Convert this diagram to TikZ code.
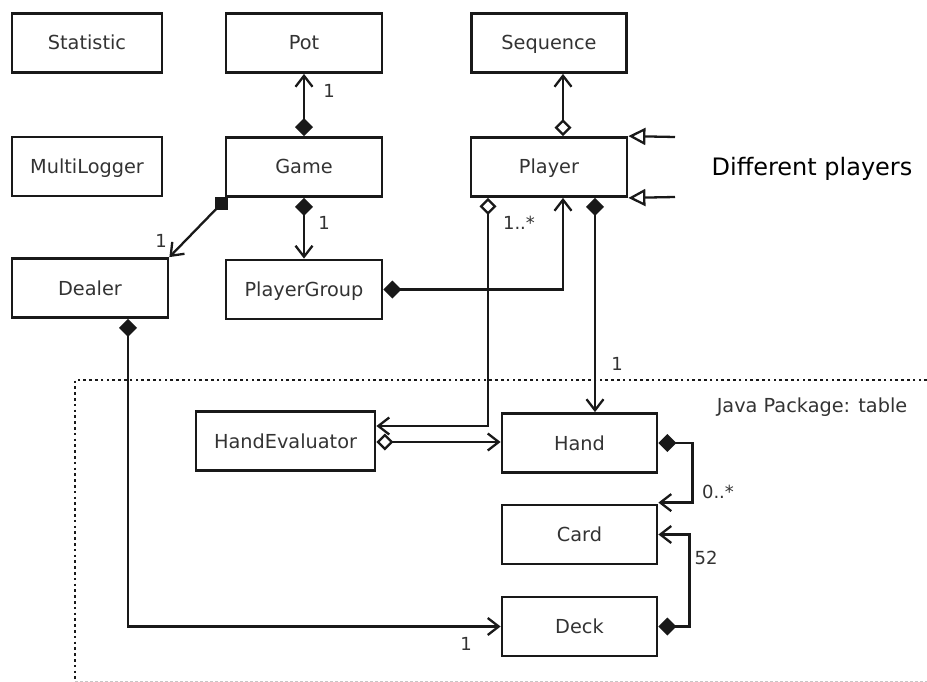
\documentclass[tikz,border=0pt]{standalone}
\usepackage{fontspec}
\setmainfont{DejaVu Sans}
\usetikzlibrary{arrows.meta,calc}

\begin{document}
\begin{tikzpicture}[x=1pt,y=-1pt,
  cls/.style={draw=black!90, line width=2.8pt, minimum height=59pt, inner sep=0pt,
              text height=14pt, text depth=0pt,
              font=\fontsize{19.3}{23}\selectfont, text=black!80},
  conn/.style={line width=2.3pt, draw=black!90},
  lbl/.style={font=\fontsize{18}{22}\selectfont, text=black!80, inner sep=0pt},
  navtip/.style={-{Straight Barb[length=11pt,width=17pt]}},
  compnav/.style={{Diamond[length=18pt,width=18pt]}-{Straight Barb[length=11pt,width=17pt]}},
  aggrnav/.style={{Diamond[open,length=17pt,width=17pt,fill=white]}-{Straight Barb[length=11pt,width=17pt]}},
  gentip/.style={-{Triangle[open,length=17pt,width=17pt,fill=white]}},
  pkgline/.style={line width=2.6pt, dash pattern=on 2.6pt off 3.2pt, draw=black!90},
]
\useasboundingbox (0,0) rectangle (927,682);

% classes
\node[cls, minimum width=150pt] (Statistic)   at (87,43)    {Statistic};
\node[cls, minimum width=156pt] (Pot)         at (304,43)   {Pot};
\node[cls, minimum width=155pt] (Sequence)    at (549,43)   {Sequence};
\node[cls, minimum width=150pt] (MultiLogger) at (87,166.5) {MultiLogger};
\node[cls, minimum width=156pt] (Game)        at (304,167)  {Game};
\node[cls, minimum width=156pt] (Player)      at (549,167)  {Player};
\node[cls, minimum width=156pt] (Dealer)      at (90,288)   {Dealer};
\node[cls, minimum width=156pt] (PlayerGroup) at (304,289.5){PlayerGroup};
\node[cls, minimum width=179pt] (HandEvaluator) at (285.5,441) {HandEvaluator};
\node[cls, minimum width=155pt] (Hand)        at (579.5,443) {Hand};
\node[cls, minimum width=155pt] (Card)        at (579.5,534.5) {Card};
\node[cls, minimum width=155pt] (Deck)        at (579.5,626.5) {Deck};

% package frame
\coordinate (pkgTL) at (75,380);
\coordinate (pkgTR) at (927,380);
\coordinate (pkgBL) at (75,682);
\coordinate (pkgBR) at (927,681);
\draw[pkgline] (pkgTR) -- (pkgTL) -- (pkgBL);
\draw[gray!45, line width=1pt, dash pattern=on 3pt off 2pt] ($(pkgBL)+(0,-1)$) -- (pkgBR);
\node[font=\fontsize{19.3}{23}\selectfont, text=black!80] (pkglabel) at (812,407) {Java Package: table};

% Game associations
\draw[conn, compnav] (Game.north) -- (Pot.south);
\node[lbl] (lPot) at (329,91) {1};
\draw[conn, compnav] (Game.south) -- (PlayerGroup.north);
\node[lbl] (lPG) at (324,223) {1};
\node[fill=black!90, minimum size=13pt, inner sep=0pt] (gsq) at (221,204) {};
\draw[conn, navtip] (gsq.center) -- (Dealer.north east);
\node[lbl] (lDealer) at (161,241) {1};

% Player associations
\coordinate (pSeqA) at ($(Player.north)+(14,0)$);
\coordinate (pSeqB) at ($(Sequence.south)+(14,0)$);
\draw[conn, aggrnav] (pSeqA) -- (pSeqB);
\coordinate (genA) at (675,137);
\coordinate (genB) at (675,197);
\draw[conn, gentip] (genA) -- (Player.north east);
\draw[conn, gentip] (genB) -- (Player.south east);
\node[font=\fontsize{24}{28}\selectfont] (diff) at (812,169) {Different players};

\coordinate (pPG) at ($(Player.south)+(14,0)$);
\draw[conn, compnav] (PlayerGroup.east) -| (pPG);
\coordinate (pHE) at ($(Player.south)+(-61,0)$);
\coordinate (heTop) at ($(HandEvaluator.east)+(0,-15)$);
\draw[conn, aggrnav] (pHE) |- (heTop);
\node[lbl] (lHE) at (519,223) {1..*};
\coordinate (pHand) at ($(Player.south)+(46,0)$);
\draw[conn, compnav] (pHand) -- (pHand |- Hand.north);
\node[lbl] (lHand) at (617,364) {1};

% table package associations
\coordinate (heLow) at ($(HandEvaluator.east)+(0,1)$);
\draw[conn, aggrnav] (heLow) -- (heLow -| Hand.west);
\coordinate (cardTop) at ($(Card.north east)+(0,-1)$);
\draw[conn, compnav] (Hand.east) -- ++(34,0) |- (cardTop);
\node[lbl] (lCard) at (718,492) {0..*};
\draw[conn, compnav] (Deck.east) -- ++(31,0) |- (Card.east);
\node[lbl] (l52) at (706,558) {52};
\coordinate (dDeck) at ($(Dealer.south)+(38,0)$);
\draw[conn, compnav] (dDeck) |- (Deck.west);
\node[lbl] (lDeck) at (466,644) {1};
\end{tikzpicture}
\end{document}
